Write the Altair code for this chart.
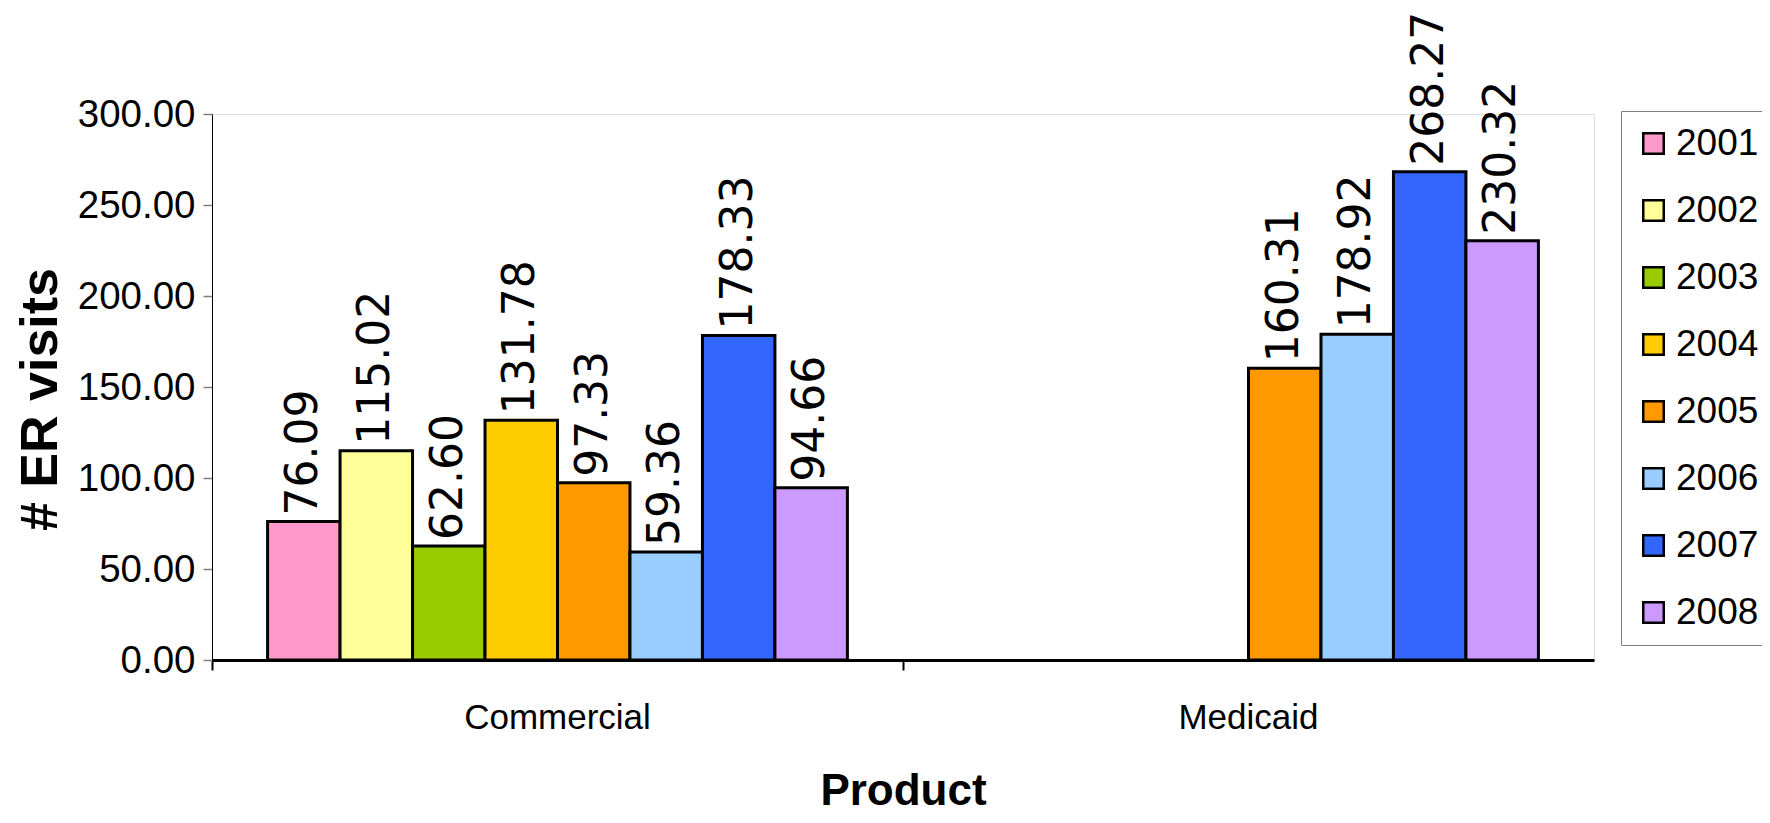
import altair as alt
import pandas as pd

products = ["Commercial", "Medicaid"]
years = ["2001", "2002", "2003", "2004", "2005", "2006", "2007", "2008"]
commercial = [76.09, 115.02, 62.60, 131.78, 97.33, 59.36, 178.33, 94.66]
medicaid = [None, None, None, None, 160.31, 178.92, 268.27, 230.32]
colors = ["#FF99CC", "#FFFF99", "#99CC00", "#FFCC00", "#FF9900", "#99CCFF", "#3366FF", "#CC99FF"]
y_ticks = [0, 50, 100, 150, 200, 250, 300]

rows = []
for prod, vals in zip(products, [commercial, medicaid]):
    for yr, v in zip(years, vals):
        if v is not None:
            rows.append({"Product": prod, "Year": yr, "Visits": v})
df = pd.DataFrame(rows)

FONT = "Liberation Sans"

base = alt.Chart(df).encode(
    x=alt.X(
        "Product:N",
        sort=products,
        scale=alt.Scale(paddingInner=0, paddingOuter=0),
        axis=alt.Axis(
            title="Product",
            titleFont=FONT,
            titleFontSize=44,
            titleFontWeight="bold",
            titleColor="black",
            titleY=144,
            titleBaseline="alphabetic",
            labelFont=FONT,
            labelFontSize=35,
            labelColor="black",
            labelAngle=0,
            labelPadding=30,
            labelLimit=600,
            bandPosition=0,
            ticks=True,
            tickSize=10,
            tickColor="black",
            tickWidth=2,
            domainColor="black",
            domainWidth=3,
            grid=False,
        ),
    ),
    xOffset=alt.XOffset(
        "Year:N",
        sort=years,
        scale=alt.Scale(domain=years, paddingInner=0, paddingOuter=0.767),
    ),
    y=alt.Y(
        "Visits:Q",
        scale=alt.Scale(domain=[0, 300], nice=False),
        axis=alt.Axis(
            title="# ER visits",
            titleFont=FONT,
            titleFontSize=52,
            titleFontWeight="bold",
            titleColor="black",
            titleAngle=270,
            titleX=-172,
            titleY=285,
            titleAlign="center",
            titleBaseline="middle",
            values=y_ticks,
            format=".2f",
            labelFont=FONT,
            labelFontSize=38.5,
            labelColor="black",
            labelPadding=8,
            tickSize=9,
            tickColor="#808080",
            tickWidth=1.5,
            domainColor="black",
            domainWidth=1,
            grid=False,
        ),
    ),
)

bars = base.mark_bar(stroke="black", strokeWidth=3).encode(
    color=alt.Color(
        "Year:N",
        sort=years,
        scale=alt.Scale(domain=years, range=colors),
        legend=alt.Legend(
            title=None,
            orient="none",
            legendX=1409,
            legendY=-3,
            fillColor="white",
            strokeColor="#808080",
            padding=14,
            symbolType="square",
            symbolSize=420,
            symbolStrokeColor="black",
            symbolStrokeWidth=2.5,
            symbolOffset=0,
            labelFont=FONT,
            labelFontSize=37,
            labelColor="black",
            labelOffset=4,
            rowPadding=29,
        ),
    )
)

labels = base.mark_text(
    angle=270,
    align="left",
    baseline="middle",
    dx=6,
    font="DejaVu Sans",
    fontSize=44,
    color="black",
).encode(text=alt.Text("Visits:Q", format=".2f"))

chart = (
    alt.layer(bars, labels)
    .properties(
        width=1382,
        height=546,
        autosize=alt.AutoSizeParams(type="none"),
        padding={"left": 204, "top": 106, "right": 168, "bottom": 155},
    )
    .configure_view(stroke="black", strokeWidth=1)
    .configure(background="white")
)

chart.save("out.html", embed_options={"renderer": "svg", "actions": False})
